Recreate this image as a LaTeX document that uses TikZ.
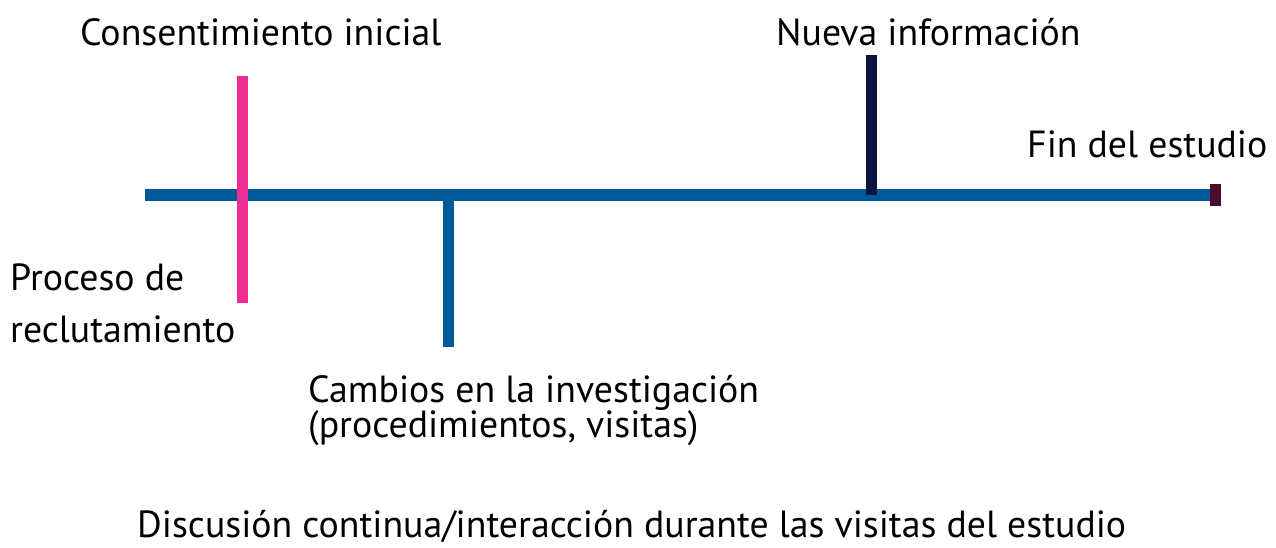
\documentclass[tikz,border=0pt]{standalone}
\usepackage{fontspec}
\setmainfont{PT Sans}
\definecolor{tlblue}{HTML}{005A9A}
\definecolor{tlpink}{HTML}{EE2D92}
\definecolor{tlnavy}{HTML}{0A1440}
\definecolor{tlmaroon}{HTML}{4B0A2E}
\tikzset{
  bar/.style={line width=11pt},
  lbl/.style={anchor=base west, inner sep=0pt, font=\fontsize{37.8}{44}\selectfont, text=black},
}
\begin{document}
\begin{tikzpicture}[x=1pt,y=-1pt]
\useasboundingbox (0,0) rectangle (1276,548);
\coordinate (ls) at (145,195);
\coordinate (le) at (1212,195);
\coordinate (pt) at (242.5,76);
\coordinate (pb) at (242.5,303);
\coordinate (bt) at (448.5,190);
\coordinate (bb) at (448.5,347);
\coordinate (nt) at (871.5,55);
\coordinate (nb) at (871.5,195);
\draw[bar, tlblue] (ls) -- (le);
\draw[bar, tlblue] (bt) -- (bb);
\draw[bar, tlpink] (pt) -- (pb);
\draw[bar, tlnavy] (nt) -- (nb);
\fill[tlmaroon] (1210,184) rectangle (1221,206);
\node[lbl] (consent) at (80,46) {Consentimiento inicial};
\node[lbl] (nueva) at (776,46) {Nueva información};
\node[lbl] (fin) at (1027,158) {Fin del estudio};
\node[lbl] (proc1) at (10,290) {Proceso de};
\node[lbl] (proc2) at (10,342) {reclutamiento};
\node[lbl] (camb1) at (308,402) {Cambios en la investigación};
\node[lbl] (camb2) at (308,437) {(procedimientos, visitas)};
\node[lbl] (disc) at (137,537) {Discusión continua/interacción durante las visitas del estudio};
\end{tikzpicture}
\end{document}
